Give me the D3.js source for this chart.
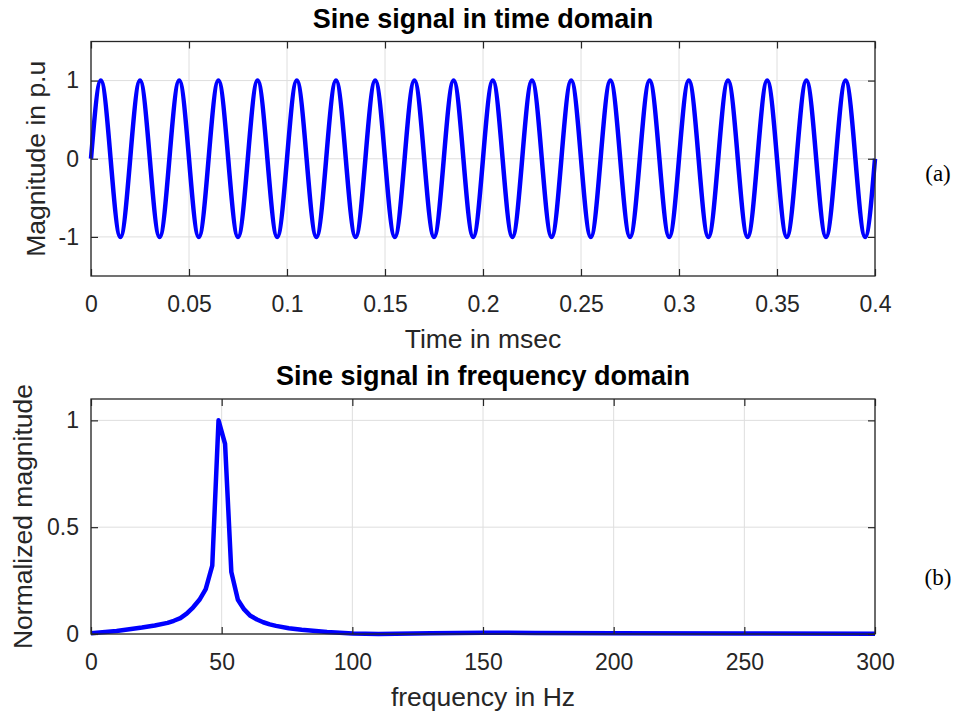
<!DOCTYPE html>
<html>
<head>
<meta charset="utf-8">
<script src="https://cdn.jsdelivr.net/npm/d3@7"></script>
<style>
  html, body { margin: 0; padding: 0; background: #fff; }
  svg { display: block; }
</style>
</head>
<body>
<svg id="chart" width="958" height="714"></svg>
<script>
// ---- time-domain signal: samples every quarter period (0.005 ms) ----
const timeMs = d3.range(0, 81).map(i => +(i * 0.005).toFixed(3));
const timeSignal = [
  0, 1, 0, -1, 0, 1, 0, -1, 0, 1, 0, -1, 0, 1, 0, -1, 0, 1, 0, -1,
  0, 1, 0, -1, 0, 1, 0, -1, 0, 1, 0, -1, 0, 1, 0, -1, 0, 1, 0, -1,
  0, 1, 0, -1, 0, 1, 0, -1, 0, 1, 0, -1, 0, 1, 0, -1, 0, 1, 0, -1,
  0, 1, 0, -1, 0, 1, 0, -1, 0, 1, 0, -1, 0, 1, 0, -1, 0, 1, 0, -1,
  0
];
const timeTicksX = [0, 0.05, 0.1, 0.15, 0.2, 0.25, 0.3, 0.35, 0.4];
const timeTicksY = [-1, 0, 1];

// ---- frequency-domain spectrum (normalized magnitude) ----
const freqHz = [0, 9.8, 19.5, 24.4, 29.3, 31.7, 34.2, 36.6, 39.1, 41.5, 43.9, 46.4, 48.8, 51.3, 53.7,
  56.2, 58.6, 61.0, 63.5, 65.9, 68.4, 70.8, 75.7, 80.6, 90.3, 100.1, 110, 130, 150, 170, 200, 250, 300];
const freqMag = [0.004, 0.014, 0.03, 0.04, 0.052, 0.062, 0.074, 0.095, 0.125, 0.16, 0.21, 0.32, 1.0, 0.89, 0.29,
  0.16, 0.115, 0.085, 0.068, 0.055, 0.045, 0.038, 0.027, 0.02, 0.009, 0.002, 0.0, 0.004, 0.006, 0.005, 0.003, 0.002, 0.001];
const freqTicksX = [0, 50, 100, 150, 200, 250, 300];
const freqTicksY = [0, 0.5, 1];

const svg = d3.select("#chart");
const FONT = "'Liberation Sans', Arial, Helvetica, sans-serif";
const INK = "#262626";
const fmt = d => String(+(+d).toFixed(3)).replace("\u2212", "-");

function panel(opts) {
  const { top, bottom, left, right, xDomain, yDomain, xTicks, yTicks,
          xs, ys, curve, title, xLabel, yLabel, yLabelX, tag, tagY } = opts;
  const x = d3.scaleLinear().domain(xDomain).range([left, right]);
  const y = d3.scaleLinear().domain(yDomain).range([bottom, top]);
  const g = svg.append("g");

  // grid
  g.append("g").selectAll("line.gx").data(xTicks).join("line")
    .attr("x1", d => x(d)).attr("x2", d => x(d))
    .attr("y1", top).attr("y2", bottom)
    .attr("stroke", "#dedede").attr("stroke-width", 1);
  g.append("g").selectAll("line.gy").data(yTicks).join("line")
    .attr("x1", left).attr("x2", right)
    .attr("y1", d => y(d)).attr("y2", d => y(d))
    .attr("stroke", "#dedede").attr("stroke-width", 1);

  // data line
  const line = d3.line().x((d, i) => x(xs[i])).y(d => y(d)).curve(curve);
  g.append("path").datum(ys)
    .attr("d", line)
    .attr("fill", "none")
    .attr("stroke", "#0000ff")
    .attr("stroke-width", 4.5)
    .attr("stroke-linejoin", "round");

  // axes (ticks pointing inward on all four sides)
  const styleAxis = sel => {
    sel.select(".domain").remove();
    sel.selectAll(".tick line").attr("stroke", INK).attr("stroke-width", 1.2);
    sel.selectAll(".tick text").attr("fill", INK)
      .style("font-family", FONT).style("font-size", "23px");
  };
  g.append("g").attr("transform", `translate(0,${bottom})`)
    .call(d3.axisBottom(x).tickValues(xTicks).tickFormat(fmt).tickSize(-7).tickPadding(19.5))
    .call(styleAxis);
  g.append("g").attr("transform", `translate(0,${top})`)
    .call(d3.axisTop(x).tickValues(xTicks).tickFormat("").tickSize(-7))
    .call(styleAxis);
  g.append("g").attr("transform", `translate(${left},0)`)
    .call(d3.axisLeft(y).tickValues(yTicks).tickFormat(fmt).tickSize(-7).tickPadding(12))
    .call(styleAxis);
  g.append("g").attr("transform", `translate(${right},0)`)
    .call(d3.axisRight(y).tickValues(yTicks).tickFormat("").tickSize(-7))
    .call(styleAxis);

  // box
  g.append("rect")
    .attr("x", left).attr("y", top)
    .attr("width", right - left).attr("height", bottom - top)
    .attr("fill", "none").attr("stroke", INK).attr("stroke-width", 1.3);

  // title
  g.append("text")
    .attr("x", (left + right) / 2).attr("y", top - 14)
    .attr("text-anchor", "middle")
    .style("font-family", FONT).style("font-size", "27px").style("font-weight", "bold")
    .attr("fill", "#000")
    .text(title);

  // x label
  g.append("text")
    .attr("x", (left + right) / 2).attr("y", bottom + 72)
    .attr("text-anchor", "middle")
    .style("font-family", FONT).style("font-size", "26.5px")
    .attr("fill", INK)
    .text(xLabel);

  // y label
  g.append("text")
    .attr("transform", `translate(${yLabelX},${(top + bottom) / 2}) rotate(-90)`)
    .attr("text-anchor", "middle")
    .style("font-family", FONT).style("font-size", "26.5px")
    .attr("fill", INK)
    .text(yLabel);

  // panel tag
  g.append("text")
    .attr("x", 938).attr("y", tagY)
    .attr("text-anchor", "middle")
    .attr("dominant-baseline", "central")
    .style("font-family", "'Liberation Serif', 'Times New Roman', serif")
    .style("font-size", "23px")
    .attr("fill", "#000")
    .text(tag);
}

panel({
  top: 41.5, bottom: 276, left: 91, right: 875,
  xDomain: [0, 0.4], yDomain: [-1.5, 1.5],
  xTicks: timeTicksX, yTicks: timeTicksY,
  xs: timeMs, ys: timeSignal, curve: d3.curveNatural,
  title: "Sine signal in time domain",
  xLabel: "Time in msec",
  yLabel: "Magnitude in p.u",
  yLabelX: 45,
  tag: "(a)", tagY: 173
});

panel({
  top: 399, bottom: 634, left: 91, right: 875,
  xDomain: [0, 300], yDomain: [0, 1.1],
  xTicks: freqTicksX, yTicks: freqTicksY,
  xs: freqHz, ys: freqMag, curve: d3.curveLinear,
  title: "Sine signal in frequency domain",
  xLabel: "frequency in Hz",
  yLabel: "Normalized magnitude",
  yLabelX: 32,
  tag: "(b)", tagY: 577
});
</script>
</body>
</html>
